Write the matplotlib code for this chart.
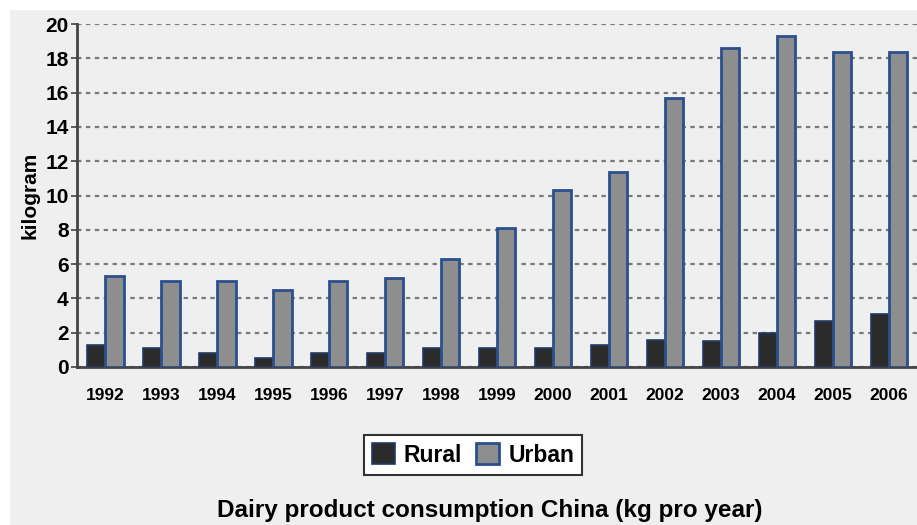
import numpy as np
import matplotlib.pyplot as plt
import matplotlib.patches as mpatches

# dairy consumption per person, kg per year
years = ['1992', '1993', '1994', '1995', '1996', '1997', '1998', '1999',
         '2000', '2001', '2002', '2003', '2004', '2005', '2006']
rural = [1.3, 1.1, 0.8, 0.5, 0.8, 0.8, 1.1, 1.1, 1.1, 1.3, 1.6, 1.5, 2.0, 2.7, 3.1]
urban = [5.3, 5.0, 5.0, 4.5, 5.0, 5.2, 6.3, 8.1, 10.3, 11.4, 15.7, 18.6, 19.3, 18.4, 18.4]
y_ticks = [0, 2, 4, 6, 8, 10, 12, 14, 16, 18, 20]

plt.rcParams['font.family'] = ['Liberation Sans', 'DejaVu Sans']
plt.rcParams['font.weight'] = 'bold'

fig = plt.figure(figsize=(9.17, 5.25), dpi=100)
fig.patch.set_facecolor('white')
# light grey panel, leaving a thin white strip on top and left
bg = mpatches.Rectangle((10 / 917, 0), 1, 1 - 10 / 525, transform=fig.transFigure,
                        facecolor='#efefef', edgecolor='none', zorder=-5)
fig.patches.append(bg)

ax = fig.add_axes([0.084, 0.301, 0.916, 0.653])
ax.set_facecolor('#efefef')
ax.set_zorder(1)

x = np.arange(len(years))
w = 0.33
ax.bar(x - w / 2, rural, w, color='#2b2b2b', edgecolor='#1f3a6b', linewidth=1.2,
       label='Rural', zorder=3)
ax.bar(x + w / 2, urban, w, color='#8e8e8e', edgecolor='#2a4f8f', linewidth=2,
       label='Urban', zorder=3)

ax.set_xlim(-0.5, len(years) - 0.5)
ax.set_ylim(0, 20)
ax.set_yticks(y_ticks)
ax.set_yticklabels([str(v) for v in y_ticks], fontsize=15, fontweight='bold')
ax.set_xticks(x)
ax.set_xticklabels(years, fontsize=12.5, fontweight='bold')
ax.tick_params(axis='x', length=0, pad=15)
ax.tick_params(axis='y', length=4, width=1.2, color='#444444', pad=2)

ax.grid(axis='y', linestyle=(0, (2, 2)), color='#7a7a7a', linewidth=1.6, zorder=1)
for s in ['top', 'right']:
    ax.spines[s].set_visible(False)
ax.spines['left'].set_color('#444444')
ax.spines['left'].set_linewidth(2)
ax.spines['bottom'].set_color('#444444')
ax.spines['bottom'].set_linewidth(2)

ax.set_ylabel('kilogram', fontsize=15, fontweight='bold', labelpad=4)

leg = fig.legend(loc='center', bbox_to_anchor=(473 / 917, 1 - 455 / 525), ncol=2,
                 fancybox=False, edgecolor='#333333', framealpha=1,
                 prop={'size': 16.5, 'weight': 'bold'}, handlelength=1.0,
                 handleheight=1.0, columnspacing=0.6, handletextpad=0.4,
                 borderpad=0.35)
leg.get_frame().set_linewidth(1.5)

fig.text(490 / 917, 1 - 510 / 525, 'Dairy product consumption China (kg pro year)',
         ha='center', va='center', fontsize=17.5, fontweight='bold')

fig.savefig('out.png', dpi=100, facecolor=fig.get_facecolor())
